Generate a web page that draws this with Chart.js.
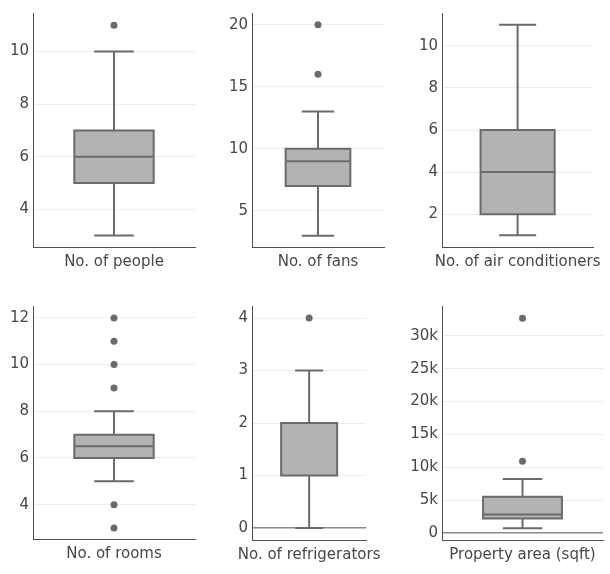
<!DOCTYPE html>
<html>
<head>
<meta charset="utf-8">
<script src="https://cdn.jsdelivr.net/npm/chart.js@4/dist/chart.umd.min.js"></script>
<style>
  body { margin: 0; background: #fff; }
  .panel { position: absolute; }
</style>
</head>
<body>
<script>
// box plot statistics, one entry per variable
const labels = ['No. of people', 'No. of fans', 'No. of air conditioners',
                'No. of rooms', 'No. of refrigerators', 'Property area (sqft)'];
const whiskerLow  = [3, 3, 1, 5, 0, 700];
const q1          = [5, 7, 2, 6, 1, 2200];
const median      = [6, 9, 4, 6.5, 1, 2800];
const q3          = [7, 10, 6, 7, 2, 5500];
const whiskerHigh = [10, 13, 11, 8, 3, 8200];
const outliers    = [[11], [16, 20], [], [3, 4, 9, 10, 11, 12], [4], [10900, 32700]];

// y axis ticks and ranges
const yTicks = [
    [4, 6, 8, 10],
    [5, 10, 15, 20],
    [2, 4, 6, 8, 10],
    [4, 6, 8, 10, 12],
    [0, 1, 2, 3, 4],
    [0, 5000, 10000, 15000, 20000, 25000, 30000]
];
const yRanges = [[2.56, 11.47], [2.09, 20.94], [0.44, 11.56], [2.53, 12.51], [-0.23, 4.23], [-1083, 34555]];

// where each small chart sits on the page
const panels = [
    { left: 0,   top: 0,   width: 200, height: 280, padRight: 5, axisH: 33 },
    { left: 219, top: 0,   width: 170, height: 280, padRight: 5, axisH: 33 },
    { left: 409, top: 0,   width: 201, height: 280, padRight: 7, axisH: 33 },
    { left: 0,   top: 293, width: 200, height: 280, padRight: 5, axisH: 34 },
    { left: 219, top: 293, width: 170, height: 281, padRight: 5, axisH: 34 },
    { left: 409, top: 293, width: 201, height: 281, padRight: 7, axisH: 34 }
];

const FONT = { family: 'DejaVu Sans', size: 15 };
const TEXT = '#474747';
const AXIS = '#505050';
const LINE = '#6b6b6b';
const FILL = '#b3b3b3';

// whiskers, caps, median and box outline, placed with the chart's scales
const boxPlugin = {
    id: 'boxWhiskers',
    afterDatasetsDraw(chart) {
        const i = chart.options.plugins.boxWhiskers.index;
        const bar = chart.getDatasetMeta(0).data[0];
        const y = chart.scales.y;
        const x = bar.x, half = bar.width / 2, cap = bar.width / 4;
        const c = chart.ctx;
        const yHi = y.getPixelForValue(whiskerHigh[i]);
        const yLo = y.getPixelForValue(whiskerLow[i]);
        const yMed = y.getPixelForValue(median[i]);
        const yQ1 = y.getPixelForValue(q1[i]);
        const yQ3 = y.getPixelForValue(q3[i]);
        c.save();
        c.strokeStyle = LINE;
        c.lineWidth = 2;
        c.beginPath();
        c.moveTo(x, yQ3); c.lineTo(x, yHi);
        c.moveTo(x, yQ1); c.lineTo(x, yLo);
        c.moveTo(x - cap, yHi); c.lineTo(x + cap, yHi);
        c.moveTo(x - cap, yLo); c.lineTo(x + cap, yLo);
        c.moveTo(x - half, yMed); c.lineTo(x + half, yMed);
        c.rect(x - half, yQ3, bar.width, yQ1 - yQ3);
        c.stroke();
        c.restore();
    }
};

function fmt(v) {
    if (Math.abs(v) >= 1000) return (v / 1000) + 'k';
    return String(v);
}

panels.forEach((p, i) => {
    const div = document.createElement('div');
    div.className = 'panel';
    div.style.left = p.left + 'px';
    div.style.top = p.top + 'px';
    const canvas = document.createElement('canvas');
    canvas.width = p.width;
    canvas.height = p.height;
    div.appendChild(canvas);
    document.body.appendChild(div);

    new Chart(canvas, {
        data: {
            labels: [labels[i]],
            datasets: [{
                type: 'bar',
                data: [[q1[i], q3[i]]],
                backgroundColor: FILL,
                borderWidth: 0,
                barPercentage: 0.49,
                categoryPercentage: 1
            }, {
                type: 'line',
                data: outliers[i].map(v => ({ x: labels[i], y: v })),
                showLine: false,
                pointRadius: 3.5,
                pointBackgroundColor: LINE,
                pointBorderWidth: 0
            }]
        },
        options: {
            responsive: false,
            animation: false,
            devicePixelRatio: 1,
            layout: { padding: { top: 7, right: p.padRight, left: 0, bottom: 0 } },
            plugins: {
                legend: { display: false },
                tooltip: { enabled: false },
                boxWhiskers: { index: i }
            },
            scales: {
                x: {
                    grid: { display: false, drawTicks: false },
                    border: { color: AXIS, width: 1 },
                    ticks: { color: TEXT, font: FONT, padding: 6, maxRotation: 0, autoSkip: false },
                    afterFit: s => { s.height = p.axisH; }
                },
                y: {
                    min: yRanges[i][0],
                    max: yRanges[i][1],
                    afterBuildTicks: s => { s.ticks = yTicks[i].map(v => ({ value: v })); },
                    grid: {
                        drawTicks: false,
                        color: ctx => (ctx.tick && ctx.tick.value === 0) ? '#8a8a8a' : '#ececec',
                        lineWidth: ctx => (ctx.tick && ctx.tick.value === 0) ? 1.5 : 1
                    },
                    border: { color: AXIS, width: 1 },
                    ticks: { color: TEXT, font: FONT, padding: 4, callback: v => fmt(v) },
                    afterFit: s => { s.width = 33; }
                }
            }
        },
        plugins: [boxPlugin]
    });
});
</script>
</body>
</html>
